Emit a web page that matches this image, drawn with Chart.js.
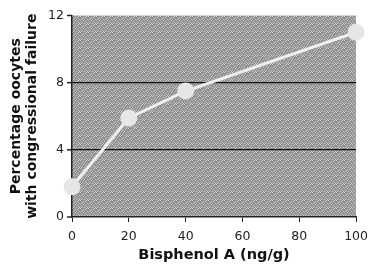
<!DOCTYPE html>
<html><head><meta charset="utf-8">
<script src="https://cdn.jsdelivr.net/npm/chart.js@4/dist/chart.umd.min.js"></script>
<style>html,body{margin:0;padding:0;background:#fff;}#wrap{width:375px;height:268px;}</style>
</head><body><div id="wrap"><canvas id="c" width="375" height="268"></canvas></div>
<script>
const doses = [0, 20, 40, 100];
const failurePct = [1.8, 5.9, 7.5, 11.0];
const yTicks = [0, 4, 8, 12];
const xTicks = [0, 20, 40, 60, 80, 100];

function makePattern(ctx){
  const p = document.createElement('canvas'); p.width = 8; p.height = 8;
  const g = p.getContext('2d');
  g.fillStyle = '#929292'; g.fillRect(0,0,8,8);
  g.fillStyle = '#cbcbcb';
  const dots = [[0,0],[5,1],[2,2],[7,3],[3,4],[0,5],[6,6],[1,7],[4,7],[6,0],[3,1],[1,3],[5,5],[7,7],[2,6],[4,3]];
  dots.forEach(d=>g.fillRect(d[0],d[1],1,1));
  return ctx.createPattern(p,'repeat');
}
const bgPlugin = {
  id:'bg',
  beforeDraw(chart){
    const {ctx, chartArea:a} = chart;
    ctx.save(); ctx.fillStyle = makePattern(ctx);
    ctx.fillRect(a.left, a.top, a.right-a.left, a.bottom-a.top);
    ctx.restore();
  }
};
const font = {family:'DejaVu Sans', size:12.5};
new Chart(document.getElementById('c'), {
  type:'scatter',
  data:{datasets:[{
    data: doses.map((d,i)=>({x:d, y:failurePct[i]})),
    showLine:true, borderColor:'#efefef', borderWidth:3,
    pointRadius:8.5, pointBackgroundColor:'#e6e6e6', pointBorderWidth:0,
    clip:false
  }]},
  options:{
    responsive:false, animation:false,
    layout:{padding:{left:0,right:16,top:14,bottom:0}},
    plugins:{legend:{display:false}, tooltip:{enabled:false}},
    scales:{
      x:{type:'linear', min:0, max:100,
        afterBuildTicks(s){ s.ticks = xTicks.map(v=>({value:v})); },
        afterFit(s){ s.height = 51; },
        ticks:{font, color:'#222', padding:7},
        grid:{display:true, drawOnChartArea:false, drawTicks:true, tickLength:5, color:'#222'},
        border:{display:true, color:'#222', width:1.5},
        title:{display:true, text:'Bisphenol A (ng/g)', font:{family:'DejaVu Sans', size:14.5, weight:'bold'}, color:'#111', padding:{top:1}}
      },
      y:{min:0, max:12,
        afterBuildTicks(s){ s.ticks = yTicks.map(v=>({value:v})); },
        afterFit(s){ s.width = 72; },
        ticks:{font, color:'#222', padding:8},
        grid:{color:(c)=> (c.tick && (c.tick.value===4||c.tick.value===8)) ? '#111' : 'rgba(0,0,0,0)', lineWidth:1.3, drawTicks:false},
        border:{display:true, color:'#222', width:1.5},
        title:{display:true, text:['Percentage oocytes','with congressional failure'], font:{family:'DejaVu Sans', size:14, weight:'bold', lineHeight:1.1}, color:'#111', padding:{top:9, bottom:0}}
      }
    }
  },
  plugins:[bgPlugin, {
    id:'yticks',
    afterDraw(chart){
      const s = chart.scales.y, ctx = chart.ctx;
      ctx.save(); ctx.strokeStyle='#222'; ctx.lineWidth=1.5;
      yTicks.forEach(v=>{ const y=s.getPixelForValue(v); ctx.beginPath(); ctx.moveTo(s.right-5,y); ctx.lineTo(s.right,y); ctx.stroke(); });
      ctx.restore();
    }
  }]
});
</script></body></html>
